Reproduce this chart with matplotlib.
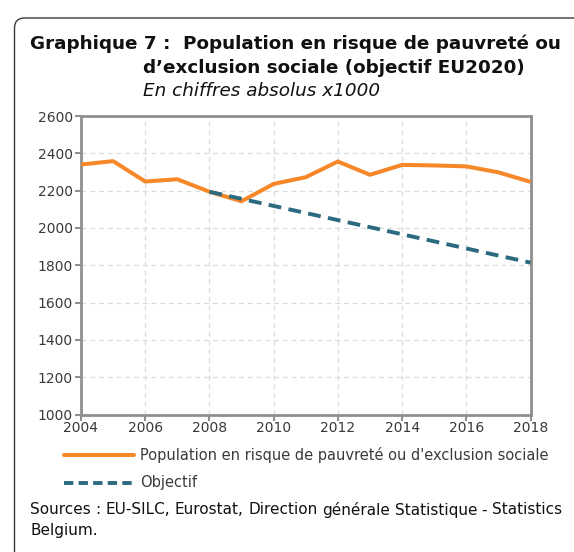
import matplotlib

matplotlib.use("Agg")
import matplotlib.pyplot as plt
from matplotlib.patches import FancyBboxPatch
from matplotlib.transforms import IdentityTransform
from matplotlib.lines import Line2D

# values (x1000 persons)
years = [2004, 2005, 2006, 2007, 2008, 2009, 2010, 2011, 2012, 2013, 2014, 2015, 2016, 2017, 2018]
arope = [2340, 2358, 2249, 2261, 2194, 2143, 2236, 2272, 2356, 2285, 2338, 2335, 2330, 2298, 2247]
target_years = [2008, 2009, 2010, 2011, 2012, 2013, 2014, 2015, 2016, 2017, 2018]
target = [2194, 2156, 2118, 2080, 2042, 2004, 1966, 1928, 1890, 1852, 1814]

series_label = "Population en risque de pauvreté ou d'exclusion sociale"
target_label = "Objectif"
title_lines = ["Graphique 7 :  Population en risque de pauvreté ou",
               "d\u2019exclusion sociale (objectif EU2020)"]
subtitle = "En chiffres absolus x1000"
source_words = "Sources : EU-SILC, Eurostat, Direction générale Statistique - Statistics".split()
source_line2 = "Belgium."

ORANGE = "#F7882A"
TEAL = "#2C6A80"
GREY = "#8F8F8F"
DASH = (3.3, 1.9)
W, H = 574, 552

plt.rcParams["font.family"] = "DejaVu Sans"

fig = plt.figure(figsize=(W / 100, H / 100), dpi=100)


def fx(px):
    return px / W


def fy(py):
    return 1 - py / H


# rounded frame around the whole graphic
frame = FancyBboxPatch((14.5, -20), 600, H - 18 + 20,
                       boxstyle="round,pad=0,rounding_size=10",
                       transform=IdentityTransform(), fill=False,
                       edgecolor="#3a3a3a", linewidth=1.0)
fig.patches.append(frame)

ax = fig.add_axes([fx(81), fy(414.5), fx(530.5) - fx(81), fy(116) - fy(414.5)])
ax.plot(years, arope, color=ORANGE, lw=2.9, solid_capstyle="butt", zorder=3)
ax.plot(target_years, target, color=TEAL, lw=2.8, dashes=DASH, zorder=4)
ax.set_xlim(2004, 2018)
ax.set_ylim(1000, 2600)
ax.set_xticks(range(2004, 2019, 2))
ax.set_yticks(range(1000, 2601, 200))
ax.grid(True, color="#dcdcdc", ls=(0, (4, 3)), lw=0.9)
for s in ax.spines.values():
    s.set_color(GREY)
    s.set_linewidth(2.0)
ax.tick_params(axis="both", colors=GREY, labelcolor="#3a3a3a", labelsize=10,
               length=4, width=1.5, pad=1)
ax.tick_params(axis="y", pad=2)

# titles
fig.text(fx(30), fy(44), title_lines[0], fontsize=13.2, fontweight="bold", va="center", color="#111111")
fig.text(fx(143), fy(68), title_lines[1], fontsize=13.2, fontweight="bold", va="center", color="#111111")
fig.text(fx(143), fy(91), subtitle, fontsize=13.2, style="italic", va="center", color="#111111")

# legend drawn by hand
fig.lines.append(Line2D([fx(64), fx(134)], [fy(455), fy(455)], transform=fig.transFigure,
                        color=ORANGE, lw=2.9, solid_capstyle="round"))
fig.lines.append(Line2D([fx(64), fx(134)], [fy(483), fy(483)], transform=fig.transFigure,
                        color=TEAL, lw=2.8, dashes=(2.4, 1.35)))
fig.text(fx(140), fy(455), series_label, fontsize=10.5, va="center", color="#3a3a3a")
fig.text(fx(140), fy(483), target_label, fontsize=10.5, va="center", color="#3a3a3a")

# justified source line
renderer = fig.canvas.get_renderer()
left, right = 30, 562
words = [fig.text(0, fy(510), w, fontsize=11, va="center", color="#111111") for w in source_words]
widths = [t.get_window_extent(renderer).width for t in words]
gap = (right - left - sum(widths)) / (len(words) - 1)
x = left
for t, w in zip(words, widths):
    t.set_x(fx(x))
    x += w + gap
fig.text(fx(left), fy(531), source_line2, fontsize=11, va="center", color="#111111")

fig.savefig("out.png", dpi=100)
